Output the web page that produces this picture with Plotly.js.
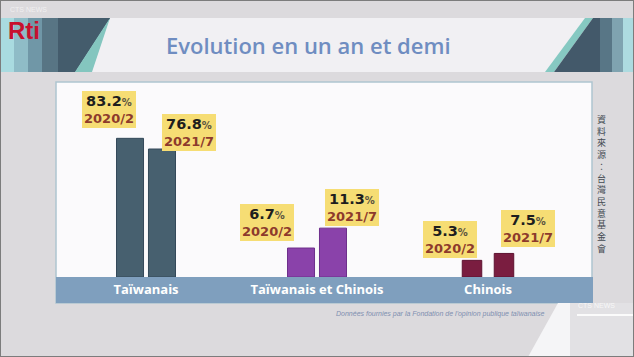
<!DOCTYPE html>
<html>
<head>
<meta charset="utf-8">
<script src="https://cdn.plot.ly/plotly-3.0.1.min.js"></script>
<style>html,body{margin:0;padding:0;background:#dcdadd;}#chart{width:634px;height:357px;}</style>
</head>
<body>
<div id="chart"></div>
<script>
// ---- data ----
const categories = ['Taïwanais', 'Taïwanais et Chinois', 'Chinois'];
const periods = ['2020/2', '2021/7'];
const values2020 = [83.2, 6.7, 5.3];
const values2021 = [76.8, 11.3, 7.5];
const titleText = 'Evolution en un an et demi';
const sourceText = '資料來源：台灣民意基金會';
const footerText = "Données fournies par la Fondation de l'opinion publique taïwanaise";

// ---- styles ----
const W = 634, H = 357;
const px = x => x / W;
const py = y => 1 - y / H;
const groupColors = ['#47606f', '#8a42aa', '#7a1d40'];
const groupLines = ['#34495a', '#6e2f8c', '#5e1230'];
const groupWidths = [0.158, 0.158, 0.114];
const yAxisIds = ['y', 'y2', 'y3'];
const yAxisRanges = [[0, 117], [0, 45.1], [0, 62.1]];
const labelXShift = [[-37.5, 42.5], [-50.5, 35], [-38.5, 40]];
const labelYShift = [[10, -2], [7, 2], [2.4, 6.4]];

const series = [values2020, values2021];
const traces = [];
const annotations = [];
categories.forEach((cat, i) => {
  periods.forEach((p, j) => {
    const v = series[j][i];
    traces.push({
      type: 'bar', x: [cat], y: [v], yaxis: yAxisIds[i], name: p,
      offsetgroup: p, alignmentgroup: 'all', width: groupWidths[i],
      marker: {color: groupColors[i], line: {color: groupLines[i], width: 1}},
      hoverinfo: 'skip', showlegend: false
    });
    annotations.push({
      x: cat, y: v, xref: 'x', yref: yAxisIds[i],
      xanchor: 'center', yanchor: 'bottom',
      xshift: labelXShift[i][j], yshift: labelYShift[i][j],
      showarrow: false, align: 'center',
      text: '<b><span style="font-size:14.5px">' + v.toFixed(1) + '</span></b><span style="font-size:10px;color:#5b5440"><b>%</b></span><br><span style="color:#8d3a2c"><b>' + p + '</b></span>',
      font: {family: 'DejaVu Sans', size: 13, color: '#1e1e1e'},
      bgcolor: '#f6dd74', borderpad: 2, borderwidth: 0
    });
  });
});

// decorative / text annotations
annotations.push(
  {xref: 'paper', yref: 'paper', x: px(308), y: py(45), showarrow: false, xanchor: 'center', yanchor: 'middle',
   text: titleText, font: {family: 'Open Sans', size: 22, color: '#6f8dc1', weight: 600}},
  {xref: 'paper', yref: 'paper', x: px(24), y: py(30), showarrow: false, xanchor: 'center', yanchor: 'middle',
   text: '<b>Rti</b>', font: {family: 'Liberation Sans Narrow, Liberation Sans', size: 24, color: '#c8102e'}},
  {xref: 'paper', yref: 'paper', x: px(601), y: py(184), showarrow: false, xanchor: 'center', yanchor: 'middle',
   text: sourceText.split('').join('<br>'), font: {family: 'Noto Sans CJK TC', size: 9, color: '#444a52'}},
  {xref: 'paper', yref: 'paper', x: px(440), y: py(314), showarrow: false, xanchor: 'center', yanchor: 'middle',
   text: '<i>' + footerText + '</i>', font: {family: 'Liberation Sans', size: 7, color: '#7f8fb0'}},
  {xref: 'paper', yref: 'paper', x: px(596), y: py(305), showarrow: false, xanchor: 'center', yanchor: 'middle',
   text: 'CTS NEWS', font: {family: 'Liberation Sans', size: 7, color: 'rgba(255,255,255,0.75)'}},
  {xref: 'paper', yref: 'paper', x: px(28), y: py(9), showarrow: false, xanchor: 'center', yanchor: 'middle',
   text: 'CTS NEWS', font: {family: 'Liberation Sans', size: 7, color: 'rgba(255,255,255,0.6)'}}
);

function poly(pts, fill, line) {
  return {type: 'path', xref: 'paper', yref: 'paper', layer: 'below',
    path: 'M' + pts.map(p => px(p[0]) + ',' + py(p[1])).join('L') + 'Z',
    fillcolor: fill, line: line || {width: 0}};
}
function rect(x0, y0, x1, y1, fill, line) {
  return {type: 'rect', xref: 'paper', yref: 'paper', layer: 'below',
    x0: px(x0), x1: px(x1), y0: py(y1), y1: py(y0), fillcolor: fill, line: line || {width: 0}};
}

const shapes = [
  rect(0, 18, 634, 72, '#f1f0f3'),
  // left decoration
  poly([[0, 18], [110, 18], [75, 72], [0, 72]], '#a9dbe0'),
  poly([[14, 18], [110, 18], [75, 72], [14, 72]], '#8fbcc7'),
  poly([[28, 18], [110, 18], [75, 72], [28, 72]], '#7097a7'),
  poly([[42, 18], [110, 18], [75, 72], [42, 72]], '#587584'),
  poly([[58, 18], [110, 18], [75, 72], [58, 72]], '#445c6c'),
  poly([[110, 18], [92, 72], [75, 72]], '#84c6bf'),
  // right decoration
  poly([[545, 72], [585, 18], [593, 18], [554, 72]], '#86c9c2'),
  poly([[554, 72], [593, 18], [634, 18], [634, 72]], '#43596a'),
  rect(600, 18, 634, 72, '#587686'),
  rect(612, 18, 634, 72, '#7fa3b0'),
  rect(623, 18, 634, 72, '#addbe0'),
  // panel
  rect(56, 82, 592, 303, '#fbfafc', {color: '#aec5d0', width: 1.5}),
  rect(56, 277, 593, 303, '#7f9fbe', {width: 0}),
  // bottom-right decoration
  poly([[570, 303], [634, 303], [634, 357], [570, 357]], '#e2e1e4'),
  poly([[558, 303], [570, 303], [570, 357], [528, 357]], '#f5f5f7'),
  rect(577, 314, 634, 316, 'rgba(255,255,255,0.85)'),
  // frame
  {type: 'rect', xref: 'paper', yref: 'paper', layer: 'above', x0: 0, x1: 1, y0: 0, y1: 1,
   line: {color: '#7c7c7c', width: 2}, fillcolor: 'rgba(0,0,0,0)'}
];

const layout = {
  width: W, height: H,
  margin: {l: 0, r: 0, t: 0, b: 0},
  paper_bgcolor: '#dcdadd', plot_bgcolor: 'rgba(0,0,0,0)',
  barmode: 'group', bargap: 0.626, bargroupgap: 0,
  showlegend: false,
  xaxis: {domain: [px(60.5), px(573.5)], type: 'category', range: [-0.5, 2.5],
    showgrid: false, zeroline: false, showline: false, ticks: '', ticklabelstandoff: 3,
    tickfont: {family: 'Open Sans', size: 13, color: '#ffffff', weight: 'bold'}, fixedrange: true},
  yaxis: {domain: [py(277), py(82)], range: yAxisRanges[0], visible: false, fixedrange: true},
  yaxis2: {overlaying: 'y', range: yAxisRanges[1], visible: false, fixedrange: true},
  yaxis3: {overlaying: 'y', range: yAxisRanges[2], visible: false, fixedrange: true},
  shapes: shapes,
  annotations: annotations
};

Plotly.newPlot('chart', traces, layout, {staticPlot: true, displayModeBar: false});
</script>
</body>
</html>
